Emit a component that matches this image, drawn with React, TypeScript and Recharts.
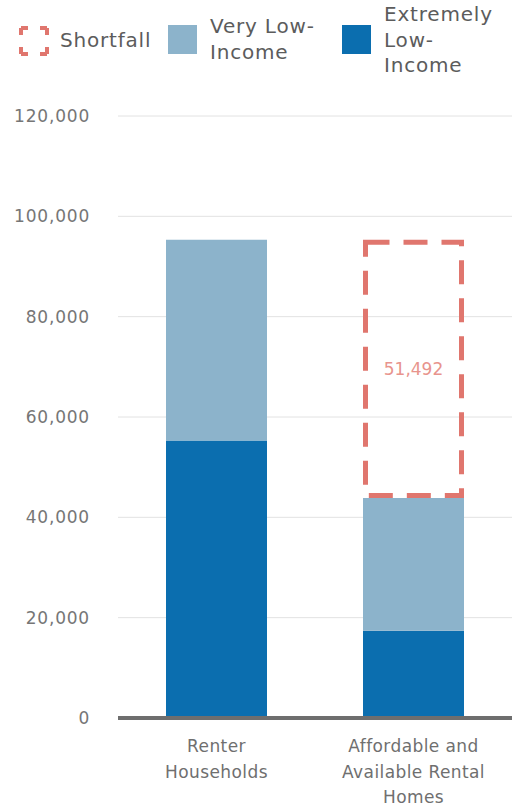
import { Bar, BarChart, CartesianGrid, LabelList, XAxis, YAxis } from 'recharts';

const categories = ['Renter Households', 'Affordable and Available Rental Homes'];
const categoryLines = [
  ['Renter', 'Households'],
  ['Affordable and', 'Available Rental', 'Homes'],
];
const extremelyLow = [55300, 17400];
const veryLow = [40050, 26460];
const shortfall = [0, 51492];
const yTicks = [0, 20000, 40000, 60000, 80000, 100000, 120000];

const DARK = '#0b6eaf';
const LIGHT = '#8cb3cb';
const RED = '#e0766e';
const FONT = '"DejaVu Sans", sans-serif';

const chartData = categories.map((name, i) => ({
  name,
  idx: i,
  eli: extremelyLow[i],
  vli: veryLow[i],
  shortfall: shortfall[i],
}));

function ShortfallShape(props: any) {
  const { x, y, width, height } = props;
  if (!height || height <= 0) return null;
  return (
    <rect
      x={x + 2.5}
      y={y + 2.5}
      width={width - 5}
      height={height - 5}
      fill="none"
      stroke={RED}
      strokeWidth={5}
      strokeDasharray="24 14"
    />
  );
}

function CategoryTick(props: any) {
  const { x, y, payload } = props;
  const lines = categoryLines[payload.index] ?? [String(payload.value)];
  return (
    <text
      x={x}
      y={y}
      textAnchor="middle"
      fill="#6f6f6f"
      fontSize={17}
      fontFamily={FONT}
      letterSpacing={0.4}
    >
      {lines.map((l, i) => (
        <tspan key={i} x={x} dy={i === 0 ? 26 : 25.5}>
          {l}
        </tspan>
      ))}
    </text>
  );
}

function Legend() {
  const text = {
    position: 'absolute' as const,
    fontFamily: FONT,
    fontSize: 20,
    letterSpacing: 0.8,
    color: '#5c5c5c',
    lineHeight: '25.5px',
    whiteSpace: 'nowrap' as const,
  };
  return (
    <>
      <svg style={{ position: 'absolute', left: 18, top: 25 }} width={32} height={32}>
        <rect
          x={3}
          y={3}
          width={26}
          height={26}
          fill="none"
          stroke={RED}
          strokeWidth={4}
          strokeDasharray="7 12 7 0"
        />
      </svg>
      <div style={{ ...text, left: 60, top: 28 }}>Shortfall</div>
      <div style={{ position: 'absolute', left: 168, top: 25, width: 29, height: 29, background: LIGHT }} />
      <div style={{ ...text, left: 210, top: 14 }}>
        Very Low-
        <br />
        Income
      </div>
      <div style={{ position: 'absolute', left: 342, top: 25, width: 29, height: 29, background: DARK }} />
      <div style={{ ...text, left: 384, top: 2 }}>
        Extremely
        <br />
        Low-
        <br />
        Income
      </div>
    </>
  );
}

export default function App() {
  return (
    <div style={{ position: 'absolute', left: 0, top: 0, width: 515, height: 809, background: '#fff' }}>
      <Legend />
      <div style={{ position: 'absolute', left: 0, top: 0 }}>
        <BarChart
          width={515}
          height={809}
          data={chartData}
          margin={{ top: 116, right: 3, bottom: 0, left: 0 }}
          barSize={101}
        >
          <CartesianGrid vertical={false} stroke="#e2e2e2" strokeWidth={1} />
          <XAxis
            dataKey="name"
            axisLine={{ stroke: '#6e6e6e', strokeWidth: 4 }}
            tickLine={false}
            tick={<CategoryTick />}
            interval={0}
            height={91}
          />
          <YAxis
            width={118}
            domain={[0, 120000]}
            ticks={yTicks}
            axisLine={false}
            tickLine={false}
            tickSize={0}
            tickMargin={28}
            tickFormatter={(v: number) => v.toLocaleString('en-US')}
            tick={{ fill: '#767676', fontSize: 17, fontFamily: FONT, letterSpacing: 0.8 }}
          />
          <Bar dataKey="eli" stackId="a" fill={DARK} isAnimationActive={false} />
          <Bar dataKey="vli" stackId="a" fill={LIGHT} isAnimationActive={false} />
          <Bar dataKey="shortfall" stackId="a" shape={<ShortfallShape />} isAnimationActive={false}>
            <LabelList
              dataKey="shortfall"
              position="center"
              formatter={(v: any) => (v ? Number(v).toLocaleString('en-US') : '')}
              fill="#e8948d"
              fontSize={17}
              fontFamily={FONT}
            />
          </Bar>
        </BarChart>
      </div>
    </div>
  );
}
